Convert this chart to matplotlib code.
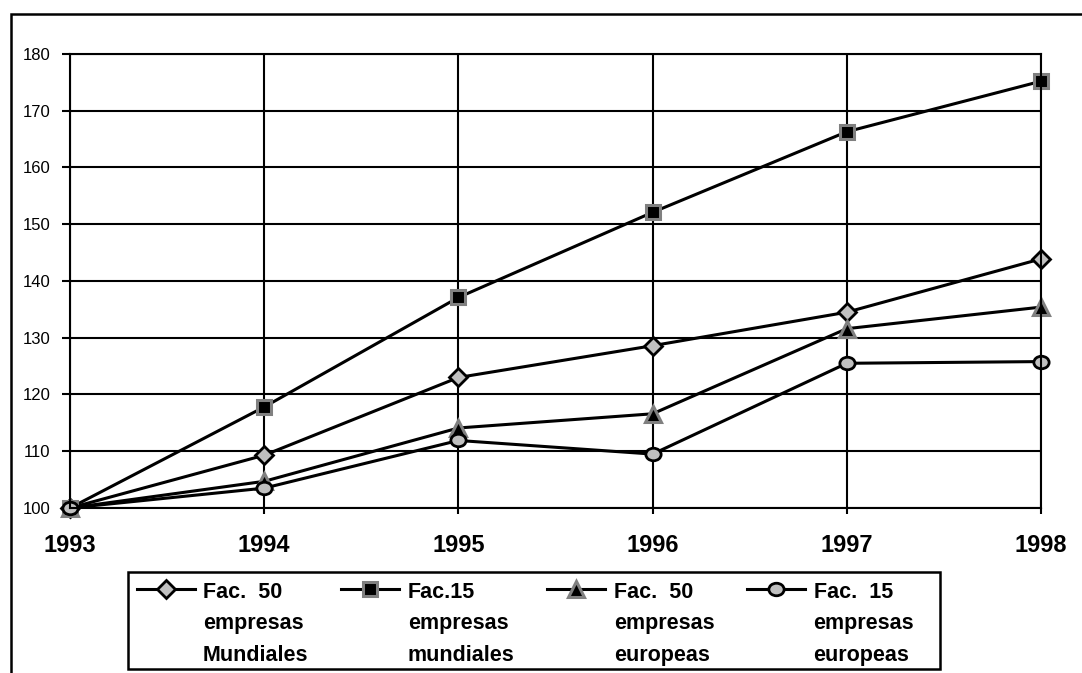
import matplotlib.pyplot as plt
from matplotlib.path import Path
from matplotlib.transforms import Affine2D
from matplotlib.patches import Rectangle

plt.rcParams['font.family'] = ['Liberation Sans', 'DejaVu Sans']

anios = [1993, 1994, 1995, 1996, 1997, 1998]
fac50_mundiales = [100, 109.3, 123.0, 128.6, 134.5, 143.9]
fac15_mundiales = [100, 117.8, 137.1, 152.1, 166.3, 175.2]
fac50_europeas = [100, 104.7, 114.1, 116.6, 131.6, 135.4]
fac15_europeas = [100, 103.5, 111.9, 109.5, 125.5, 125.8]

etiquetas = ["Fac.  50\nempresas\nMundiales",
             "Fac.15\nempresas\nmundiales",
             "Fac.  50\nempresas\neuropeas",
             "Fac.  15\nempresas\neuropeas"]

# circulo algo achatado para la ultima serie
elipse = Path.unit_circle().transformed(Affine2D().scale(1.0, 0.82))

W, H = 1082, 673
fig = plt.figure(figsize=(W / 100, H / 100), dpi=100)
fig.patch.set_facecolor("white")

# marco exterior (solo se ven el borde superior y el izquierdo)
fig.patches.append(Rectangle((11 / W, -0.2), 1.2, 1.2 - 14 / H,
                             transform=fig.transFigure, fill=False,
                             edgecolor="black", linewidth=1.8))
# recuadro de la leyenda
fig.patches.append(Rectangle((128 / W, 1 - 669 / H), (940 - 128) / W, (669 - 572) / H,
                             transform=fig.transFigure, fill=False,
                             edgecolor="black", linewidth=1.8))

ax = fig.add_axes([70 / W, 1 - 508 / H, (1041 - 70) / W, (508 - 54) / H])

ax.plot(anios, fac50_mundiales, color="black", lw=2.2, marker="D", markersize=9,
        markerfacecolor="#c0c0c0", markeredgecolor="black", markeredgewidth=2,
        label=etiquetas[0])
ax.plot(anios, fac15_mundiales, color="black", lw=2.2, marker="s", markersize=10.5,
        markerfacecolor="black", markeredgecolor="#808080", markeredgewidth=2.2,
        label=etiquetas[1])
ax.plot(anios, fac50_europeas, color="black", lw=2.2, marker="^", markersize=11,
        markerfacecolor="black", markeredgecolor="#808080", markeredgewidth=2.2,
        label=etiquetas[2])
ax.plot(anios, fac15_europeas, color="black", lw=2.2, marker=elipse, markersize=11,
        markerfacecolor="#c0c0c0", markeredgecolor="black", markeredgewidth=2,
        label=etiquetas[3])

ax.set_xlim(1993, 1998)
ax.set_ylim(100, 180)
ax.set_xticks(anios)
ax.set_yticks(range(100, 181, 10))
ax.grid(True, color="black", linewidth=1.5)
ax.set_axisbelow(True)
for s in ax.spines.values():
    s.set_linewidth(1.5)
    s.set_color("black")
ax.tick_params(axis="y", length=6, width=1.5, pad=8, labelsize=12)
ax.tick_params(axis="x", length=4, width=1.5, pad=15, labelsize=17)
for t in ax.get_xticklabels():
    t.set_fontweight("bold")
for line in ax.get_lines():
    line.set_clip_on(False)

leg = ax.legend(loc="upper left", bbox_to_anchor=(128 / W, 1 - 573 / H),
                bbox_transform=fig.transFigure, ncol=4, frameon=False,
                borderaxespad=0, prop={"weight": "bold", "size": 15.5},
                handlelength=2.7, handletextpad=0.38, columnspacing=1.53,
                borderpad=0.4)
for t in leg.get_texts():
    t.set_linespacing(1.68)
    t.set_multialignment("left")
# linea y marcador a la altura del primer renglon
for col in leg._legend_handle_box.get_children():
    for item in col.get_children():
        item.align = "top"

fig.savefig("out.png", dpi=100, facecolor="white")
